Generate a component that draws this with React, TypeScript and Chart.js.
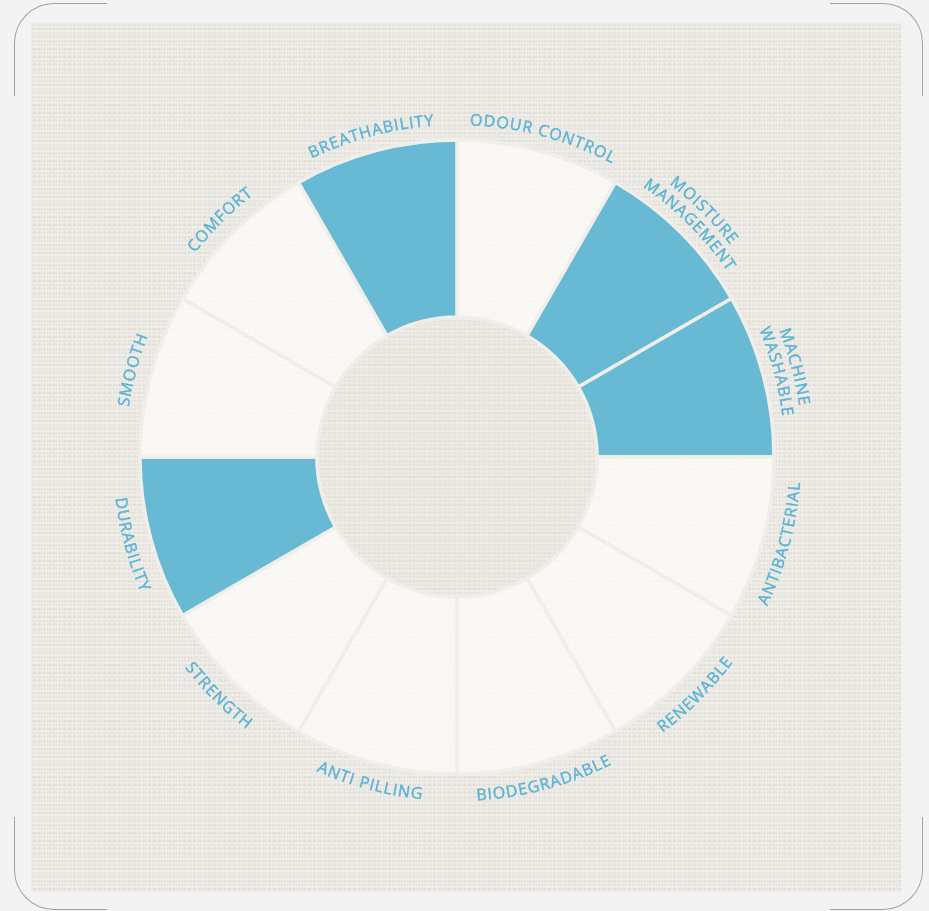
import React, { useEffect, useRef } from "react";
import { Chart, registerables } from "chart.js";

Chart.register(...registerables);

// ---- data ----
const categories = [
  "Odour Control",
  "Moisture Management",
  "Machine Washable",
  "Antibacterial",
  "Renewable",
  "Biodegradable",
  "Anti Pilling",
  "Strength",
  "Durability",
  "Smooth",
  "Comfort",
  "Breathability",
];
const labelLines = [
  ["ODOUR CONTROL"],
  ["MOISTURE", "MANAGEMENT"],
  ["MACHINE", "WASHABLE"],
  ["ANTIBACTERIAL"],
  ["RENEWABLE"],
  ["BIODEGRADABLE"],
  ["ANTI PILLING"],
  ["STRENGTH"],
  ["DURABILITY"],
  ["SMOOTH"],
  ["COMFORT"],
  ["BREATHABILITY"],
];
const shares = [1, 1, 1, 1, 1, 1, 1, 1, 1, 1, 1, 1];
const highlighted = [0, 1, 1, 0, 0, 0, 0, 0, 1, 0, 0, 1];

// ---- style ----
const BLUE = "#68b9d3";
const WHITE = "rgba(252,251,249,0.8)";
const GAP = "#f0eee9";
const TEXT = "#5ab3d3";
const FONT = '16px "Open Sans"';

function drawArcText(ctx: CanvasRenderingContext2D, text: string, cx: number, cy: number, r: number, mid: number, upper: boolean) {
  const spacing = 1.0;
  const chars = [...text];
  const widths = chars.map((ch) => ctx.measureText(ch).width + spacing);
  const total = widths.reduce((a, b) => a + b, 0) - spacing;
  const dir = upper ? 1 : -1;
  const start = mid - (dir * total) / (2 * r);
  let cum = 0;
  chars.forEach((ch, k) => {
    const w = widths[k];
    const a = start + (dir * (cum + (w - spacing) / 2)) / r;
    cum += w;
    ctx.save();
    ctx.translate(cx + r * Math.cos(a), cy + r * Math.sin(a));
    ctx.rotate(upper ? a + Math.PI / 2 : a - Math.PI / 2);
    ctx.fillText(ch, 0, 0);
    ctx.strokeText(ch, 0, 0);
    ctx.restore();
  });
}

const curvedLabels = {
  id: "curvedLabels",
  beforeDatasetsDraw(chart: any) {
    const meta = chart.getDatasetMeta(0);
    const arc = meta.data[0];
    if (!arc) return;
    const p = arc.getProps(["x", "y", "innerRadius"], true);
    const ctx = chart.ctx;
    ctx.save();
    ctx.beginPath();
    ctx.arc(p.x, p.y, p.innerRadius, 0, Math.PI * 2);
    ctx.fillStyle = "rgba(232,227,212,0.15)";
    ctx.fill();
    ctx.restore();
  },
  afterDatasetsDraw(chart: any) {
    const ctx = chart.ctx as CanvasRenderingContext2D;
    const meta = chart.getDatasetMeta(0);
    ctx.save();
    ctx.font = FONT;
    ctx.fillStyle = TEXT;
    ctx.strokeStyle = TEXT;
    ctx.lineWidth = 0.4;
    ctx.textAlign = "center";
    ctx.textBaseline = "alphabetic";
    meta.data.forEach((arc: any, i: number) => {
      const p = arc.getProps(["x", "y", "startAngle", "endAngle", "outerRadius"], true);
      const mid = (p.startAngle + p.endAngle) / 2;
      const upper = Math.sin(mid) < 0;
      const lines = labelLines[i];
      lines.forEach((line, li) => {
        let r: number;
        if (upper) {
          r = lines.length > 1 ? p.outerRadius + 11 + (lines.length - 1 - li) * 18 : p.outerRadius + 15;
        } else {
          r = p.outerRadius + 27;
        }
        drawArcText(ctx, line, p.x, p.y, r, mid, upper);
      });
    });
    ctx.restore();
  },
};

function Corner({ left, top, sides }: { left: number; top: number; sides: string }) {
  const b = "1.5px solid #a2a2a2";
  const style: any = {
    position: "absolute",
    left,
    top,
    width: 93,
    height: 93,
    boxSizing: "border-box",
  };
  if (sides.includes("t")) style.borderTop = b;
  if (sides.includes("b")) style.borderBottom = b;
  if (sides.includes("l")) style.borderLeft = b;
  if (sides.includes("r")) style.borderRight = b;
  if (sides === "tl") style.borderTopLeftRadius = 40;
  if (sides === "tr") style.borderTopRightRadius = 40;
  if (sides === "bl") style.borderBottomLeftRadius = 40;
  if (sides === "br") style.borderBottomRightRadius = 40;
  return <div style={style} />;
}

export default function App() {
  const canvasRef = useRef<HTMLCanvasElement | null>(null);

  useEffect(() => {
    const canvas = canvasRef.current;
    if (!canvas) return;
    const chart = new Chart(canvas, {
      type: "doughnut",
      data: {
        labels: categories,
        datasets: [
          {
            data: shares,
            backgroundColor: highlighted.map((h) => (h ? BLUE : WHITE)),
            borderColor: GAP,
            borderWidth: 3.5,
            hoverOffset: 0,
            clip: false as any,
          } as any,
        ],
      },
      options: {
        responsive: false,
        animation: false,
        events: [],
        rotation: 0,
        cutout: "44.2%",
        radius: 317,
        layout: { padding: { left: 142, top: 142, right: 157, bottom: 139 } },
        plugins: {
          legend: { display: false },
          tooltip: { enabled: false },
        },
      } as any,
      plugins: [curvedLabels as any],
    });
    return () => chart.destroy();
  }, []);

  return (
    <div
      style={{
        position: "absolute",
        left: 0,
        top: 0,
        width: 929,
        height: 911,
        background: "#f3f3f3",
        overflow: "hidden",
      }}
    >
      <div
        style={{
          position: "absolute",
          left: 31,
          top: 23,
          width: 871,
          height: 869,
          background:
            "radial-gradient(rgba(150,145,128,0.13) 0.7px, transparent 1.3px) 0 0 / 3px 4px, radial-gradient(rgba(140,135,120,0.08) 0.9px, transparent 1.5px) 1px 2px / 5px 7px, #f0eee9",
        }}
      />
      <Corner left={14} top={3} sides="tl" />
      <Corner left={830} top={3} sides="tr" />
      <Corner left={14} top={817} sides="bl" />
      <Corner left={830} top={817} sides="br" />
      <canvas
        ref={canvasRef}
        width={929}
        height={911}
        style={{ position: "absolute", left: 0, top: 0, width: 929, height: 911 }}
      />
    </div>
  );
}
